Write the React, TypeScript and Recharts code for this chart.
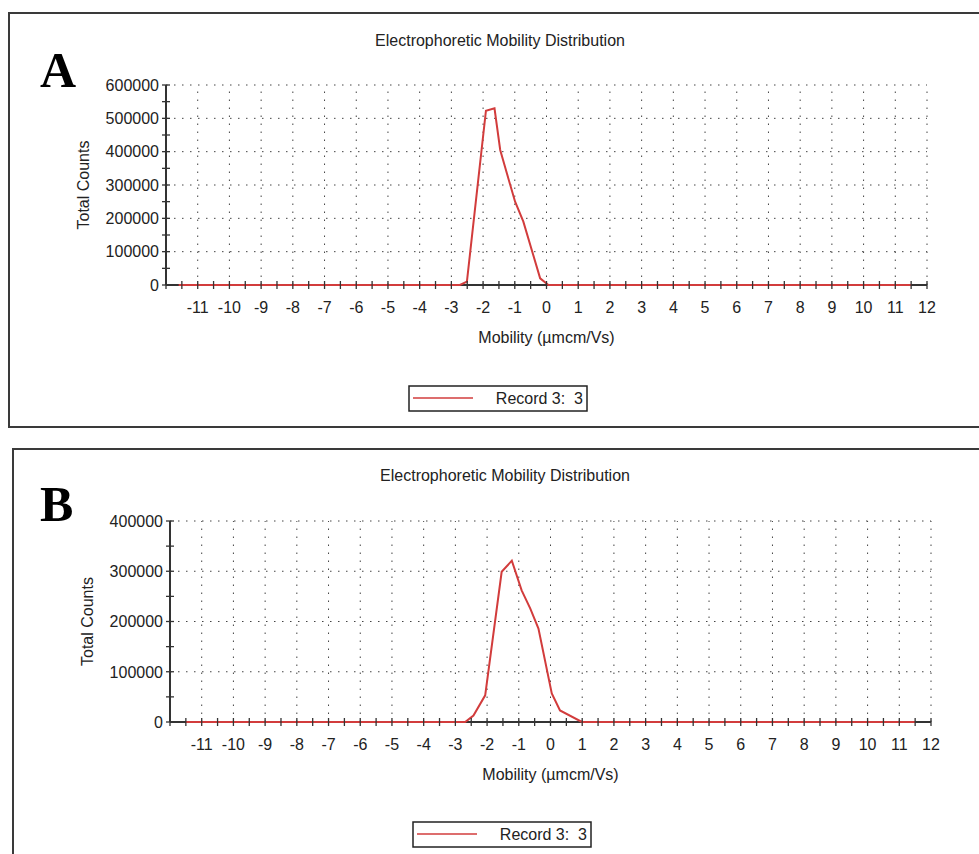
import React from "react";
import { LineChart, Line, XAxis, YAxis, ReferenceLine } from "recharts";

// panel A: mobility (µmcm/Vs) vs total counts
const mobilityA = [-11.6, -2.73, -2.51, -1.91, -1.64, -1.46, -1.25, -0.99, -0.73, -0.2, 0.06, 11.5];
const countsA = [0, 0, 10000, 523000, 530000, 405000, 335000, 250000, 190000, 20000, 0, 0];

// panel B
const mobilityB = [-11.5, -2.69, -2.43, -2.06, -1.54, -1.22, -0.91, -0.64, -0.38, 0.04, 0.3, 0.99, 11.5];
const countsB = [0, 0, 13000, 53000, 299000, 321000, 262000, 226000, 186000, 57000, 23000, 0, 0];

// x ticks every half unit, labels on whole units
const xTicks = [
  -12, -11.5, -11, -10.5, -10, -9.5, -9, -8.5, -8, -7.5, -7, -6.5, -6, -5.5, -5, -4.5, -4, -3.5, -3, -2.5, -2, -1.5,
  -1, -0.5, 0, 0.5, 1, 1.5, 2, 2.5, 3, 3.5, 4, 4.5, 5, 5.5, 6, 6.5, 7, 7.5, 8, 8.5, 9, 9.5, 10, 10.5, 11, 11.5, 12,
];
const xLabels = [-11, -10, -9, -8, -7, -6, -5, -4, -3, -2, -1, 0, 1, 2, 3, 4, 5, 6, 7, 8, 9, 10, 11, 12];

const yTicksA = [0, 50000, 100000, 150000, 200000, 250000, 300000, 350000, 400000, 450000, 500000, 550000, 600000];
const yLabelsA = [0, 100000, 200000, 300000, 400000, 500000, 600000];
const yTicksB = [0, 50000, 100000, 150000, 200000, 250000, 300000, 350000, 400000];
const yLabelsB = [0, 100000, 200000, 300000, 400000];

const seriesName = "Record 3:  3";
const FONT = "'Liberation Sans', Arial, sans-serif";
const RED = "#d23c3c";
const AXIS = "#333";

const XTick = (props: any) => {
  const { x, y, payload } = props;
  const v = payload.value;
  return (
    <g>
      <line x1={x} x2={x} y1={y - 4} y2={y + 4} stroke={AXIS} strokeWidth={1.3} />
      {xLabels.includes(v) && (
        <text x={x} y={y + 28} textAnchor="middle" fontSize={16} fontFamily={FONT} fill="#222">
          {v}
        </text>
      )}
    </g>
  );
};

const makeYTick = (labels: number[]) => (props: any) => {
  const { x, y, payload } = props;
  const v = payload.value;
  return (
    <g>
      <line x1={x - 4} x2={x + 4} y1={y} y2={y} stroke={AXIS} strokeWidth={1.3} />
      {labels.includes(v) && (
        <text x={x - 7} y={y} dy="0.36em" textAnchor="end" fontSize={16} fontFamily={FONT} fill="#222">
          {v}
        </text>
      )}
    </g>
  );
};

interface PanelProps {
  mobility: number[];
  counts: number[];
  yTicks: number[];
  yLabels: number[];
  top: number;
  height: number;
  margin: { top: number; right: number; bottom: number; left: number };
}

const Panel: React.FC<PanelProps> = ({ mobility, counts, yTicks, yLabels, top, height, margin }) => {
  const data = mobility.map((m, i) => ({ mobility: m, counts: counts[i] }));
  const yMax = yTicks[yTicks.length - 1];
  return (
    <div style={{ position: "absolute", left: 0, top }}>
      <LineChart width={979} height={height} data={data} margin={margin}>
        {xLabels.map((v) => (
          <ReferenceLine key={"gx" + v} x={v} stroke="#444" strokeDasharray="1.5 6.5" />
        ))}
        {yLabels
          .filter((v) => v > 0)
          .map((v) => (
            <ReferenceLine key={"gy" + v} y={v} stroke="#444" strokeDasharray="1.5 6.5" />
          ))}
        <XAxis
          dataKey="mobility"
          type="number"
          domain={[-12, 12]}
          ticks={xTicks}
          interval={0}
          height={60}
          tickSize={0}
          tickMargin={0}
          tickLine={false}
          tick={<XTick />}
          axisLine={{ stroke: AXIS, strokeWidth: 2 }}
          label={{
            value: "Mobility (µmcm/Vs)",
            position: "insideBottom",
            offset: 2,
            style: { fontSize: 16, fontFamily: FONT, fill: "#222" },
          }}
        />
        <YAxis
          type="number"
          domain={[0, yMax]}
          ticks={yTicks}
          interval={0}
          width={100}
          tickSize={0}
          tickMargin={0}
          tickLine={false}
          tick={makeYTick(yLabels)}
          axisLine={{ stroke: AXIS, strokeWidth: 2 }}
          label={{
            value: "Total Counts",
            angle: -90,
            position: "insideLeft",
            offset: 17,
            style: { textAnchor: "middle", fontSize: 16, fontFamily: FONT, fill: "#222" },
          }}
        />
        <Line
          type="linear"
          dataKey="counts"
          name={seriesName}
          stroke={RED}
          strokeWidth={2}
          dot={false}
          isAnimationActive={false}
          zIndex={900}
        />
      </LineChart>
    </div>
  );
};

const Legend: React.FC<{ x: number; y: number }> = ({ x, y }) => (
  <g>
    <rect x={x} y={y} width={178} height={25} fill="#fff" stroke="#222" strokeWidth={1.5} />
    <line x1={x + 4} x2={x + 64} y1={y + 12} y2={y + 12} stroke={RED} strokeWidth={1.6} />
    <text x={x + 174} y={y + 18} textAnchor="end" fontSize={16} fontFamily={FONT} fill="#222" xmlSpace="preserve">
      {seriesName}
    </text>
  </g>
);

export default function App() {
  return (
    <div style={{ position: "absolute", left: 0, top: 0, width: 979, height: 854, overflow: "hidden", background: "#fff" }}>
      <div
        style={{
          position: "absolute",
          left: 8,
          top: 12,
          width: 1000,
          height: 416,
          border: "2px solid #3a3a3a",
          boxSizing: "border-box",
        }}
      />
      <div
        style={{
          position: "absolute",
          left: 12,
          top: 448,
          width: 1000,
          height: 430,
          border: "2px solid #3a3a3a",
          boxSizing: "border-box",
        }}
      />
      <Panel
        mobility={mobilityA}
        counts={countsA}
        yTicks={yTicksA}
        yLabels={yLabelsA}
        top={0}
        height={427}
        margin={{ top: 85, right: 52, bottom: 82, left: 66 }}
      />
      <Panel
        mobility={mobilityB}
        counts={countsB}
        yTicks={yTicksB}
        yLabels={yLabelsB}
        top={436}
        height={418}
        margin={{ top: 85, right: 48, bottom: 72, left: 70 }}
      />
      <svg width={979} height={854} style={{ position: "absolute", left: 0, top: 0, pointerEvents: "none" }}>
        <text x={40} y={87} fontSize={50} fontWeight="bold" fontFamily="'Liberation Serif', 'Times New Roman', serif">
          A
        </text>
        <text x={40} y={521} fontSize={50} fontWeight="bold" fontFamily="'Liberation Serif', 'Times New Roman', serif">
          B
        </text>
        <text x={500} y={46} textAnchor="middle" fontSize={16} fontFamily={FONT} fill="#222">
          Electrophoretic Mobility Distribution
        </text>
        <text x={505} y={481} textAnchor="middle" fontSize={16} fontFamily={FONT} fill="#222">
          Electrophoretic Mobility Distribution
        </text>
        <Legend x={409} y={386} />
        <Legend x={413} y={822} />
      </svg>
    </div>
  );
}
